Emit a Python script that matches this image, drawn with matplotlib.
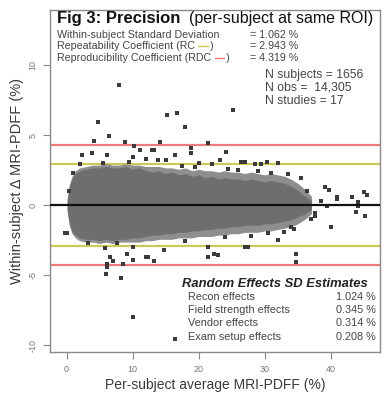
import matplotlib
matplotlib.use("Agg")
import matplotlib.pyplot as plt

plt.rcParams['font.family'] = ['Liberation Sans', 'DejaVu Sans']

# ---- data ----
wsd, rc, rdc = 1.062, 2.943, 4.319
stat_labels = ["Within-subject Standard Deviation",
               "Repeatability Coefficient (RC     )",
               "Reproducibility Coefficient (RDC     )"]
stat_values = ["= 1.062 %", "= 2.943 %", "= 4.319 %"]
n_labels = ["N subjects = 1656", "N obs =  14,305", "N studies = 17"]
re_labels = ["Recon effects", "Field strength effects", "Vendor effects", "Exam setup effects"]
re_values = ["1.024 %", "0.345 %", "0.314 %", "0.208 %"]
xticks = [0, 10, 20, 30, 40]
yticks = [-10, -5, 0, 5, 10]

# envelope of the dense point cloud
env_x = [0.2, 0.5, 0.9, 1.4, 2, 3, 4, 5, 6, 7, 8, 9, 10, 11, 12, 13, 14, 15, 16, 17, 18, 19,
         20, 21, 22, 23, 24, 25, 26, 27, 28, 29, 30, 31, 32, 33, 34, 35, 36, 37]
core_hi = [0.3, 1.2, 1.8, 2.2, 2.4, 2.5, 2.6, 2.6, 2.7, 2.6, 2.6, 2.7, 2.5, 2.6, 2.4, 2.3, 2.4,
           2.2, 2.3, 2.1, 2.2, 2.0, 2.1, 1.9, 2.0, 1.8, 1.9, 1.8, 1.8, 1.7, 1.8, 1.7, 1.6, 1.7,
           1.6, 1.5, 1.3, 1.0, 0.6, 0.3]
core_lo = [-0.3, -1.2, -1.8, -2.1, -2.3, -2.4, -2.4, -2.5, -2.4, -2.5, -2.4, -2.4, -2.3, -2.3,
           -2.2, -2.1, -2.1, -2.0, -2.0, -1.9, -1.9, -1.8, -1.8, -1.7, -1.7, -1.6, -1.6, -1.5,
           -1.5, -1.4, -1.4, -1.4, -1.3, -1.3, -1.2, -1.1, -1.0, -0.8, -0.6, -0.3]
halo_hi = [0.4, 1.4, 2.0, 2.4, 2.6, 2.7, 2.8, 2.8, 2.9, 2.8, 2.8, 2.9, 2.8, 2.8, 2.7, 2.7, 2.7,
           2.6, 2.6, 2.5, 2.6, 2.4, 2.5, 2.4, 2.4, 2.3, 2.4, 2.3, 2.3, 2.2, 2.3, 2.2, 2.1, 2.2,
           2.1, 2.0, 1.8, 1.5, 1.1, 0.6]
halo_lo = [-0.4, -1.4, -2.0, -2.3, -2.5, -2.6, -2.6, -2.7, -2.6, -2.7, -2.6, -2.6, -2.6, -2.6,
           -2.5, -2.5, -2.4, -2.4, -2.4, -2.3, -2.3, -2.3, -2.2, -2.2, -2.2, -2.1, -2.1, -2.0,
           -2.0, -1.9, -1.9, -1.9, -1.8, -1.8, -1.7, -1.6, -1.5, -1.3, -1.0, -0.6]

# individual sparse points
pt_x = [8.0, 4.8, 15.2, 16.7, 18.0, 6.4, 4.1, 8.8, 14.1, 21.5, 10.2, 11.2, 13.0, 18.8, 18.8,
        2.4, 3.9, 6.2, 10.0, 12.0, 16.5, 15.0, 13.8, 25.2, 24.1, 23.3, 26.4, 27.1, 30.4, 32.1,
        29.4, 13.2, 2.0, 5.5, 9.5, 20.0, 22.0, 28.5,
        -0.3, 0.1, 3.2, 5.9, 7.7, 10.1, 9.2, 7.1, 6.2, 8.6, 10.1, 12.0, 12.4, 13.2, 6.0, 8.2,
        10.1, 16.5, 14.7, 21.5, 22.3, 23.0, 34.7, 34.7, 21.5, 27.0, 27.5, 32.1, 6.6, 6.2,
        40.0, 45.3, 43.8, 44.1, 44.1, 43.3, 45.0, 45.6, 41.0, 41.0, 39.7, 37.7, 37.7, 39.5,
        39.2, 34.0, 34.5, 38.5, 36.5, 37.0,
        0.4, 1.0, 17.5, 19.5, 24.5, 26.0, 29.0, 31.0, 33.5, 35.5, 18.0, 24.0, 28.0, 30.5, 33.0]
pt_y = [8.6, 5.9, 6.4, 6.6, 5.6, 4.9, 4.6, 4.5, 4.5, 4.4, 4.2, 3.9, 3.9, 4.1, 3.7,
        3.6, 3.7, 3.6, 3.4, 3.3, 3.6, 3.2, 3.2, 6.8, 3.8, 3.2, 3.1, 3.1, 3.1, 3.0,
        2.9, 3.9, 2.9, 3.0, 3.1, 3.0, 2.9, 2.9,
        -2.0, -2.0, -2.7, -3.1, -2.7, -3.0, -3.5, -4.0, -4.2, -4.2, -3.9, -3.7, -3.7, -4.0, -4.9, -5.2,
        -8.0, -9.6, -3.2, -3.7, -3.5, -3.6, -3.5, -4.1, -3.0, -3.0, -3.0, -2.5, -3.7, -4.4,
        -1.6, -0.8, -0.5, 0.2, -0.1, 0.6, 0.9, 0.7, 0.6, 0.4, 1.1, -0.6, -0.8, -0.1,
        1.3, -1.6, -1.7, 0.3, 1.0, -1.0,
        1.0, 2.3, 2.8, 2.7, 2.6, 2.5, 2.4, 2.3, 2.2, 1.9, -2.6, -2.3, -2.2, -2.0, -1.9]

# ---- figure ----
fig = plt.figure(figsize=(3.91, 4.0), dpi=100)
ax = fig.add_axes([50/391, 48/400, 330/391, 342/400])
ax.set_xlim(-2.5, 47.5)
ax.set_ylim(-10.5, 13.93)

ax.fill_between(env_x, halo_lo, halo_hi, color='#8e8e8e', lw=1.0, zorder=2)
ax.fill_between(env_x, core_lo, core_hi, color='#6e6e6e', lw=1.0, zorder=3)
ax.scatter(pt_x, pt_y, s=6, marker='s', color='#3a3a3a', lw=0, zorder=4)

ax.axhline(0, color='#111111', lw=1.6, zorder=5)
for v in (rc, -rc):
    ax.axhline(v, color='#c9c95a', lw=1.6, zorder=1)
for v in (rdc, -rdc):
    ax.axhline(v, color='#ee7b7b', lw=1.6, zorder=1)

for s in ax.spines.values():
    s.set_color('#8a8a8a')
    s.set_linewidth(1.0)
ax.set_xticks(xticks)
ax.set_yticks(yticks)
ax.set_xticklabels([str(t) for t in xticks], fontsize=6.5, color='#777777')
ax.set_yticklabels([str(t) for t in yticks], fontsize=6.5, color='#777777', rotation=90, va='center')
ax.tick_params(axis='both', length=5, width=0.8, color='#8a8a8a', pad=4)
ax.set_xlabel("Per-subject average MRI-PDFF (%)", fontsize=10, color='#3a3a3a', labelpad=3)
ax.set_ylabel("Within-subject \u0394 MRI-PDFF (%)", fontsize=10.5, color='#3a3a3a', labelpad=3)

# title
t1 = ax.text(0.021, 0.975, "Fig 3: Precision", transform=ax.transAxes, fontsize=12,
             fontweight='bold', va='center', ha='left', color='#111111')
fig.canvas.draw()
bb = t1.get_window_extent()
x_end = ax.transAxes.inverted().transform((bb.x1, bb.y0))[0]
ax.text(x_end + 0.025, 0.975, "(per-subject at same ROI)", transform=ax.transAxes,
        fontsize=11.5, va='center', ha='left', color='#111111')

# stats lines
ys = [0.927, 0.894, 0.861]
dash_colors = [None, '#c9c95a', '#ee7b7b']
for lab, val, yy, dc in zip(stat_labels, stat_values, ys, dash_colors):
    tt = ax.text(0.021, yy, lab, transform=ax.transAxes, fontsize=7.7, va='center',
                 ha='left', color='#444444')
    ax.text(0.606, yy, val, transform=ax.transAxes, fontsize=7.7, va='center',
            ha='left', color='#444444')
    if dc is not None:
        fig.canvas.draw()
        b = tt.get_window_extent()
        xr = ax.transAxes.inverted().transform((b.x1, b.y0))[0]
        ax.plot([xr - 0.046, xr - 0.018], [yy, yy], transform=ax.transAxes,
                color=dc, lw=1.0, clip_on=False, zorder=6)

for lab, yy in zip(n_labels, [0.810, 0.772, 0.734]):
    ax.text(0.652, yy, lab, transform=ax.transAxes, fontsize=8.8, va='center',
            ha='left', color='#444444')

ax.text(0.40, 0.199, "Random Effects SD Estimates", transform=ax.transAxes, fontsize=9.4,
        fontweight='bold', fontstyle='italic', va='center', ha='left', color='#222222')
for lab, val, yy in zip(re_labels, re_values, [0.161, 0.122, 0.086, 0.043]):
    ax.text(0.418, yy, lab, transform=ax.transAxes, fontsize=7.8, va='center',
            ha='left', color='#444444')
    ax.text(0.988, yy, val, transform=ax.transAxes, fontsize=7.8, va='center',
            ha='right', color='#444444')

fig.savefig("out.png", dpi=100)
